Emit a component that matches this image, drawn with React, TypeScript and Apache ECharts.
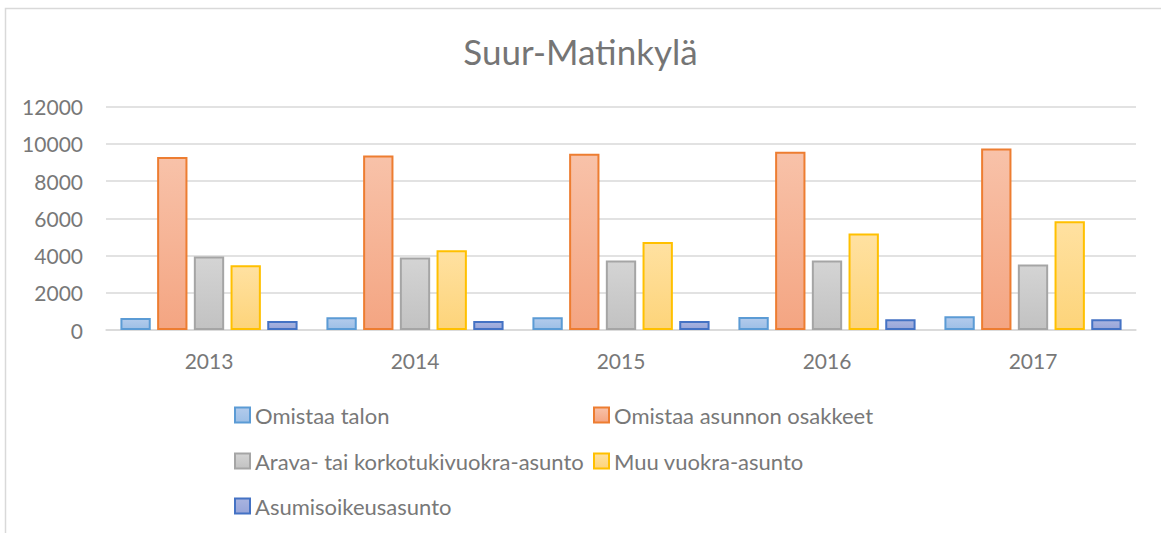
import React, { useEffect, useRef } from "react";
import * as echarts from "echarts";

const title = "Suur-Matinkylä";
const years = ["2013", "2014", "2015", "2016", "2017"];
const seriesNames = [
  "Omistaa talon",
  "Omistaa asunnon osakkeet",
  "Arava- tai korkotukivuokra-asunto",
  "Muu vuokra-asunto",
  "Asumisoikeusasunto",
];
const omistaaTalon = [645, 680, 690, 700, 735];
const omistaaOsakkeet = [9285, 9373, 9462, 9570, 9749];
const arava = [3943, 3889, 3728, 3728, 3513];
const muuVuokra = [3477, 4283, 4731, 5178, 5842];
const asumisoikeus = [484, 484, 484, 573, 573];
const yTicks = { min: 0, max: 12000, interval: 2000 };

const seriesValues = [omistaaTalon, omistaaOsakkeet, arava, muuVuokra, asumisoikeus];
const fills: [string, string][] = [
  ["#b3cbec", "#9dbfe6"],
  ["#f8c2a9", "#f4a582"],
  ["#d4d4d4", "#c2c2c2"],
  ["#ffe1a1", "#fdd47a"],
  ["#a9b4e0", "#97a5d9"],
];
const borders = ["#5b9bd5", "#ed7d31", "#a5a5a5", "#ffc000", "#4472c4"];
const legendPos = [
  { left: 234, top: 404 },
  { left: 593, top: 404 },
  { left: 234, top: 450 },
  { left: 593, top: 450 },
  { left: 234, top: 495 },
];

const FONT = "Lato";
const TEXT = "#787878";

export default function App() {
  const ref = useRef<HTMLDivElement>(null);
  useEffect(() => {
    document.body.style.margin = "0";
    if (!ref.current) return;
    const chart = echarts.init(ref.current, undefined, { renderer: "svg" });
    chart.setOption({
      animation: false,
      backgroundColor: "#ffffff",
      textStyle: { fontFamily: FONT },
      graphic: [
        {
          type: "rect",
          shape: { x: 5.5, y: 8.5, width: 1300, height: 700 },
          style: { fill: "none", stroke: "#d9d9d9", lineWidth: 1.5 },
          silent: true,
        },
      ],
      title: {
        text: title,
        left: "center",
        top: 28,
        textStyle: { fontFamily: FONT, fontSize: 35, fontWeight: "normal", color: "#757575" },
      },
      legend: seriesNames.map((n, i) => ({
        data: [n],
        left: legendPos[i].left,
        top: legendPos[i].top,
        padding: 0,
        itemWidth: 15,
        itemHeight: 15,
        itemGap: 5,
        icon: "rect",
        selectedMode: false,
        textStyle: { fontFamily: FONT, fontSize: 22, color: TEXT, lineHeight: 22 },
      })),
      grid: { left: 106, right: 25, top: 106.5, bottom: 203, containLabel: false },
      xAxis: {
        type: "category",
        data: years,
        axisLine: { lineStyle: { color: "#d9d9d9", width: 1.5 } },
        axisTick: { show: false },
        axisLabel: { fontFamily: FONT, fontSize: 21, color: TEXT, margin: 20 },
      },
      yAxis: {
        type: "value",
        min: yTicks.min,
        max: yTicks.max,
        interval: yTicks.interval,
        axisLine: { show: false },
        axisTick: { show: false },
        splitLine: { lineStyle: { color: "#d9d9d9", width: 1.5 } },
        axisLabel: {
          fontFamily: FONT,
          fontSize: 21,
          color: TEXT,
          margin: 23,
          formatter: (v: number) => String(v),
        },
      },
      series: seriesNames.map((n, i) => ({
        name: n,
        type: "bar",
        data: seriesValues[i],
        barGap: "21%",
        barCategoryGap: "14%",
        itemStyle: {
          color: new echarts.graphic.LinearGradient(0, 0, 0, 1, [
            { offset: 0, color: fills[i][0] },
            { offset: 1, color: fills[i][1] },
          ]),
          borderColor: borders[i],
          borderWidth: 2,
        },
      })),
    });
    return () => chart.dispose();
  }, []);
  return <div ref={ref} style={{ width: 1161, height: 533 }} />;
}
